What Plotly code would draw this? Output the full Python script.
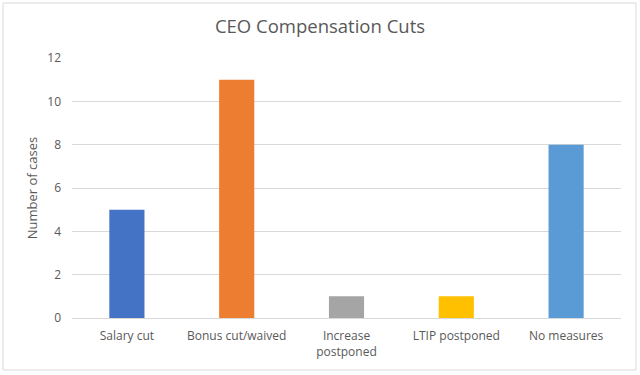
import plotly.graph_objects as go

categories = ["Salary cut", "Bonus cut/waived", "Increase<br>postponed", "LTIP postponed", "No measures"]
values = [5, 11, 1, 1, 8]
colors = ["#4472C4", "#ED7D31", "#A5A5A5", "#FFC000", "#5B9BD5"]

fig = go.Figure(go.Bar(x=categories, y=values, marker=dict(color=colors, line=dict(width=0)), width=0.32))

FONT = "Open Sans, Liberation Sans, sans-serif"
L, R, T, B = 72, 19, 58, 57
W, H = 640, 375
pw, ph = W - L - R, H - T - B

fig.update_layout(
    width=W, height=H,
    margin=dict(l=L, r=R, t=T, b=B),
    paper_bgcolor="white", plot_bgcolor="white",
    font=dict(family=FONT, color="#595959", size=12),
    title=dict(text="CEO Compensation Cuts", x=0.5, xanchor="center", y=1 - 27 / H, yanchor="middle",
               font=dict(size=18.5, color="#595959", family=FONT)),
    showlegend=False,
    bargap=0.68,
    xaxis=dict(showgrid=False, showline=True, linecolor="#d9d9d9", linewidth=1, ticks="",
               ticklabelstandoff=7,
               tickfont=dict(size=12, color="#595959"), fixedrange=True),
    yaxis=dict(range=[0, 12], dtick=2, showgrid=True, gridcolor="#d9d9d9", gridwidth=1,
               zeroline=False, showline=False, ticks="", ticklen=0, ticklabelstandoff=10,
               tickfont=dict(size=12, color="#595959"), fixedrange=True,
               title=dict(text="Number of cases", font=dict(size=13, color="#595959"), standoff=6)),
)

fig.add_shape(type="rect", xref="paper", yref="paper",
              x0=(3 - L) / pw, x1=(636 - L) / pw,
              y0=(H - B - 370) / ph, y1=(H - B - 3) / ph,
              line=dict(color="#d9d9d9", width=1), fillcolor="rgba(0,0,0,0)", layer="below")

fig.write_html("out.html", config={"displayModeBar": False},
               post_script="document.body.style.margin='0';")
